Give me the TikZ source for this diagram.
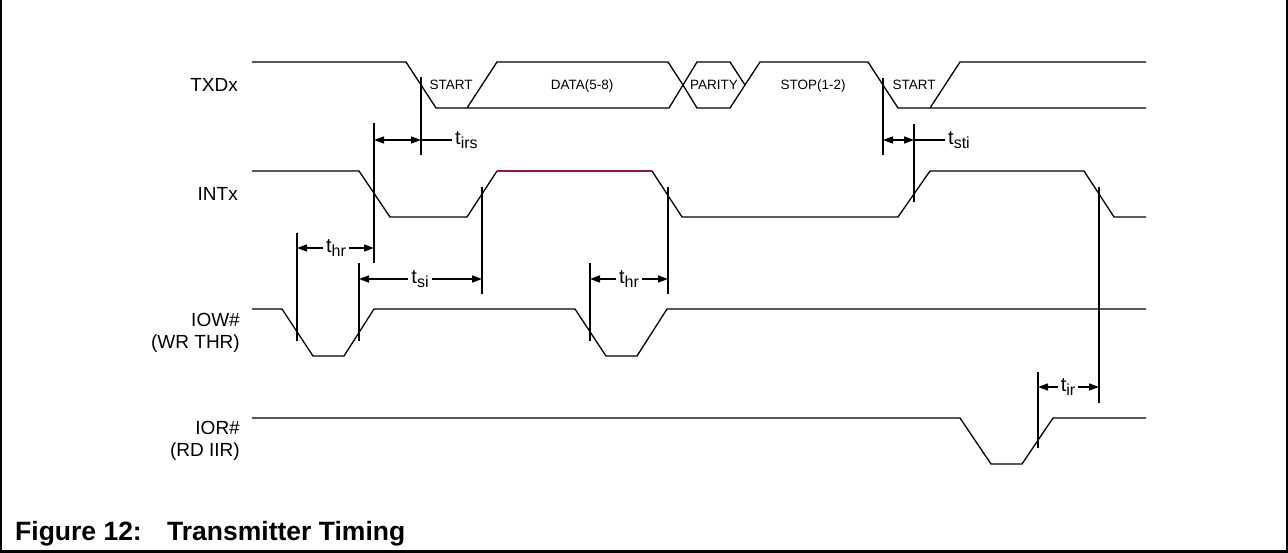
\documentclass[tikz,border=0pt]{standalone}
\usepackage{fontspec}
\setmainfont{Liberation Sans}
\usetikzlibrary{arrows.meta}

\definecolor{highlvl}{RGB}{150,20,70}

\newcommand{\tsub}[1]{t\raisebox{-0.45ex}{\fontsize{16}{16}\selectfont #1}}

\tikzset{
    wave/.style = {line width=1.3pt, line join=miter},
    vline/.style = {line width=1.3pt},
    arr/.style = {line width=1.3pt, -{Triangle[length=10pt,width=7pt]}},
    dimarr/.style = {line width=1.3pt, {Triangle[length=10pt,width=7pt]}-{Triangle[length=10pt,width=7pt]}},
    signame/.style = {anchor=east, align=right, inner sep=0pt, font=\fontsize{19}{22}\selectfont},
    field/.style = {anchor=base, inner sep=0pt, font=\fontsize{13.5}{16}\selectfont},
    tlabel/.style = {inner sep=3pt, font=\fontsize{20}{22}\selectfont},
    caption/.style = {anchor=base west, inner sep=0pt, font=\fontsize{26.5}{30}\bfseries\selectfont}
}

\begin{document}
\begin{tikzpicture}[x=1pt, y=-1pt]
        \def \TXh {62};
        \def \TXm {85};
        \def \TXb {90};
        \def \TXl {108};
        \def \INh {171};
        \def \INl {217};
        \def \IWh {309};
        \def \IWl {356};
        \def \IRh {418};
        \def \IRl {464};

        \useasboundingbox ( 0, 0 ) rectangle ( 1288, 553 );

        % frame
        \draw [line width=2.5pt] ( 1.2, 0 ) -- ( 1.2, 551.7 ) -- ( 1286.8, 551.7 ) -- ( 1286.8, 0 );

        % signal names
        \node [signame] (txd) at ( 238, \TXm ) {TXDx};
        \node [signame] (int) at ( 238, 194 ) {INTx};
        \node [signame] (iow) at ( 240, 333 ) {IOW\#\\(WR THR)};
        \node [signame] (ior) at ( 240, 441 ) {IOR\#\\(RD IIR)};

        % TXDx
        \draw [wave] ( 252, \TXh ) -- ( 406, \TXh ) -- ( 436, \TXl ) -- ( 669, \TXl ) -- ( 683, \TXm ) -- ( 697, \TXl ) -- ( 730, \TXl ) -- ( 745, \TXm ) -- ( 760, \TXh ) -- ( 868, \TXh ) -- ( 898, \TXl ) -- ( 1146, \TXl );
        \draw [wave] ( 467, \TXl ) -- ( 497, \TXh ) -- ( 668, \TXh ) -- ( 683, \TXm ) -- ( 697, \TXh ) -- ( 730, \TXh ) -- ( 745, \TXm );
        \draw [wave] ( 930, \TXl ) -- ( 960, \TXh ) -- ( 1146, \TXh );

        % fields
        \node [field] (start1) at ( 451, \TXb ) {START};
        \node [field] (data) at ( 582, \TXb ) {DATA(5-8)};
        \node [field] (parity) at ( 714, \TXb ) {PARITY};
        \node [field] (stop) at ( 813, \TXb ) {STOP(1-2)};
        \node [field] (start2) at ( 914, \TXb ) {START};

        % INTx
        \draw [wave] ( 252, \INh ) -- ( 359, \INh ) -- ( 390, \INl ) -- ( 467, \INl ) -- ( 497, \INh );
        \draw [wave, highlvl] ( 497, \INh ) -- ( 652, \INh );
        \draw [wave] ( 652, \INh ) -- ( 682, \INl ) -- ( 898, \INl ) -- ( 930, \INh ) -- ( 1084, \INh ) -- ( 1114, \INl ) -- ( 1146, \INl );

        % IOW#
        \draw [wave] ( 252, \IWh ) -- ( 282, \IWh ) -- ( 313, \IWl ) -- ( 344, \IWl ) -- ( 374, \IWh ) -- ( 575, \IWh ) -- ( 606, \IWl ) -- ( 637, \IWl ) -- ( 667, \IWh ) -- ( 1146, \IWh );

        % IOR#
        \draw [wave] ( 252, \IRh ) -- ( 960, \IRh ) -- ( 991, \IRl ) -- ( 1022, \IRl ) -- ( 1053, \IRh ) -- ( 1146, \IRh );

        % reference lines
        \draw [vline] ( 421, 77 ) -- ( 421, 155 );
        \draw [vline] ( 374, 123 ) -- ( 374, 263 );
        \draw [vline] ( 883, 78 ) -- ( 883, 155 );
        \draw [vline] ( 914, 124 ) -- ( 914, 202 );
        \draw [vline] ( 482, 187 ) -- ( 482, 294 );
        \draw [vline] ( 668, 187 ) -- ( 668, 294 );
        \draw [vline] ( 1099, 187 ) -- ( 1099, 403 );
        \draw [vline] ( 297, 233 ) -- ( 297, 341 );
        \draw [vline] ( 359, 263 ) -- ( 359, 341 );
        \draw [vline] ( 590, 263 ) -- ( 590, 341 );
        \draw [vline] ( 1038, 372 ) -- ( 1038, 448 );

        % t_irs
        \coordinate (irsA) at ( 374, 140 );
        \coordinate (irsB) at ( 421, 140 );
        \node [tlabel, anchor=west, inner sep=0pt] (tirs) at ( 455, 140 ) {\tsub{irs}};
        \draw [dimarr] (irsA) -- (irsB);
        \draw [vline] (irsB) -- ( 452, 140 );

        % t_sti
        \coordinate (stiA) at ( 883, 140 );
        \coordinate (stiB) at ( 914, 140 );
        \node [tlabel, anchor=west, inner sep=0pt] (tsti) at ( 948, 140 ) {\tsub{sti}};
        \draw [dimarr] (stiA) -- (stiB);
        \draw [vline] (stiB) -- ( 945, 140 );

        % t_hr, t_si, t_ir
        \node [tlabel] (thrA) at ( 336, 248 ) {\tsub{hr}};
        \draw [arr] (thrA.west) -- ( 297, 248 );
        \draw [arr] (thrA.east) -- ( 374, 248 );

        \node [tlabel] (tsi) at ( 420, 279 ) {\tsub{si}};
        \draw [arr] (tsi.west) -- ( 359, 279 );
        \draw [arr] (tsi.east) -- ( 482, 279 );

        \node [tlabel] (thrB) at ( 629, 279 ) {\tsub{hr}};
        \draw [arr] (thrB.west) -- ( 590, 279 );
        \draw [arr] (thrB.east) -- ( 668, 279 );

        \node [tlabel] (tir) at ( 1068, 387 ) {\tsub{ir}};
        \draw [arr] (tir.west) -- ( 1038, 387 );
        \draw [arr] (tir.east) -- ( 1099, 387 );

        % caption
        \node [caption] (fignum) at ( 15, 540 ) {Figure 12:};
        \node [caption] (title) at ( 167, 540 ) {Transmitter Timing};
    \end{tikzpicture}
\end{document}
